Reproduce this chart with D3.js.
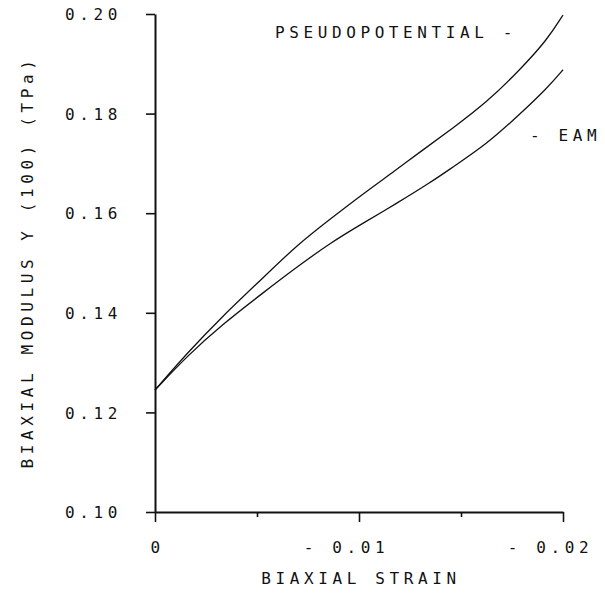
<!DOCTYPE html>
<html>
<head>
<meta charset="utf-8">
<script src="https://cdn.jsdelivr.net/npm/d3@7"></script>
<style>
  body { margin: 0; background: #fff; }
  text { font-family: "DejaVu Sans Mono", monospace; font-size: 16px; letter-spacing: 4.6px; fill: #111; }
</style>
</head>
<body>
<div id="chart"></div>
<script>
// strain values and moduli (TPa)
var pseudoStrain = [0, -0.00162, -0.00328, -0.00529, -0.00696, -0.00858, -0.0102, -0.01176, -0.01299, -0.01461, -0.01627, -0.01789, -0.01922, -0.02];
var pseudoModulus = [0.1245, 0.1321, 0.1392, 0.1470, 0.1536, 0.1588, 0.1639, 0.1685, 0.1723, 0.1771, 0.1823, 0.1888, 0.1948, 0.1998];

var eamStrain = [0, -0.00162, -0.00328, -0.00529, -0.00696, -0.00858, -0.0102, -0.01186, -0.01348, -0.01461, -0.01627, -0.01789, -0.01922, -0.02];
var eamModulus = [0.1245, 0.1315, 0.1376, 0.1440, 0.1492, 0.1540, 0.1580, 0.1620, 0.1661, 0.1693, 0.1739, 0.1799, 0.1851, 0.1888];

var xTicks = [0, -0.01, -0.02];
var xMinorTicks = [-0.005, -0.015];
var yTicks = [0.10, 0.12, 0.14, 0.16, 0.18, 0.20];

var width = 605, height = 594;
var plotLeft = 155, plotRight = 563, plotTop = 14, plotBottom = 512;

var svg = d3.select("#chart").append("svg")
	.attr("width", width)
	.attr("height", height);

var x = d3.scaleLinear().domain([0, -0.02]).range([plotLeft, plotRight]);
var y = d3.scaleLinear().domain([0.10, 0.20]).range([plotBottom, plotTop]);

// x axis
var xAxis = svg.append("g")
	.attr("transform", "translate(0," + plotBottom + ")")
	.call(d3.axisBottom(x).tickValues(xTicks).tickSize(10).tickSizeOuter(0)
		.tickFormat(function (d) { return d === 0 ? "0" : "- " + d3.format(".2f")(-d); }));
xAxis.selectAll("text")
	.attr("y", 30)
	.attr("dx", function (d) { return d === 0 ? "2px" : "-13px"; });

svg.append("g")
	.attr("transform", "translate(0," + plotBottom + ")")
	.call(d3.axisBottom(x).tickValues(xMinorTicks).tickSize(5).tickSizeOuter(0).tickFormat(""))
	.select(".domain").remove();

// y axis
var yAxis = svg.append("g")
	.attr("transform", "translate(" + plotLeft + ",0)")
	.call(d3.axisLeft(y).tickValues(yTicks).tickSize(9).tickSizeOuter(0)
		.tickFormat(d3.format(".2f")));
yAxis.selectAll("text")
	.attr("x", -33)
	.attr("dy", "0.35em");

svg.selectAll(".domain").attr("stroke", "#111").attr("stroke-width", 2);
svg.selectAll(".tick line").attr("stroke", "#111").attr("stroke-width", 1.6);
svg.selectAll(".tick text")
	.style("font-family", "'DejaVu Sans Mono', monospace")
	.style("font-size", "16px")
	.attr("fill", "#111");

// curves
var line = d3.line()
	.x(function (d) { return x(d[0]); })
	.y(function (d) { return y(d[1]); })
	.curve(d3.curveBasis);

var pseudo = pseudoStrain.map(function (s, i) { return [s, pseudoModulus[i]]; });
var eam = eamStrain.map(function (s, i) { return [s, eamModulus[i]]; });

[pseudo, eam].forEach(function (data) {
	svg.append("path")
		.datum(data)
		.attr("d", line)
		.attr("fill", "none")
		.attr("stroke", "#111")
		.attr("stroke-width", 1.3);
});

// curve labels
svg.append("text")
	.attr("x", 275)
	.attr("y", 38)
	.text("PSEUDOPOTENTIAL -");

svg.append("text")
	.attr("x", 530)
	.attr("y", 141)
	.text("- EAM");

// axis titles
svg.append("text")
	.attr("x", 361)
	.attr("y", 584)
	.attr("text-anchor", "middle")
	.text("BIAXIAL STRAIN");

svg.append("text")
	.attr("transform", "translate(33,262) rotate(-90)")
	.attr("text-anchor", "middle")
	.text("BIAXIAL MODULUS Y (100) (TPa)");
</script>
</body>
</html>
